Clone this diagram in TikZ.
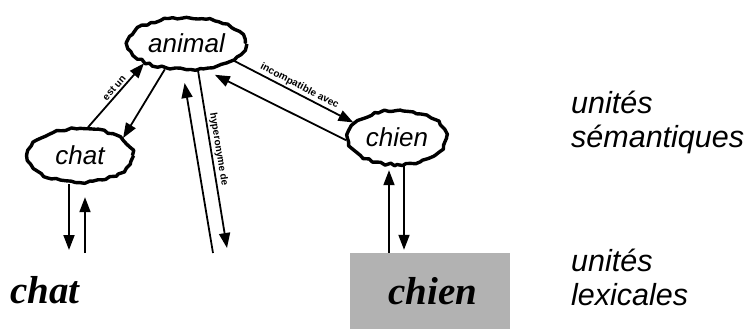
\documentclass[tikz,border=0pt]{standalone}
\usepackage{fontspec}
\setmainfont{Liberation Serif}
\setsansfont{Liberation Sans}
\usetikzlibrary{shapes.geometric,decorations.pathmorphing,arrows.meta}
\begin{document}
\begin{tikzpicture}[x=1pt,y=-1pt,
  sem/.style={ellipse, draw, line width=3.4pt, line join=round, decorate,
    decoration={random steps, segment length=4.5pt, amplitude=1.3pt}, inner sep=0pt,
    font=\sffamily\itshape\fontsize{26}{26}\selectfont},
  arr/.style={line width=1.8pt, -{Triangle[length=15pt,width=11pt]}},
  lbl/.style={font=\sffamily\bfseries\fontsize{10}{10}\selectfont, inner sep=2pt},
  side/.style={font=\sffamily\itshape\fontsize{30.5}{34}\selectfont, anchor=base west, inner sep=0pt},
  lex/.style={font=\rmfamily\bfseries\itshape\fontsize{39}{39}\selectfont}]
\pgfmathsetseed{7}
\useasboundingbox (0,0) rectangle (752,329);
\node[sem, minimum width=118pt, minimum height=52pt] (animal) at (186.5,43.5) {animal};
\node[sem, minimum width=105pt, minimum height=54pt] (chat) at (80,155.5) {chat};
\node[sem, minimum width=99pt, minimum height=54pt] (chien) at (397,137.5) {chien};

\node[side] (u1) at (571,113) {unités};
\node[side] (s1) at (571,147) {sémantiques};
\node[side] (u2) at (571,271) {unités};
\node[side] (l2) at (571,305) {lexicales};

\node[lex, anchor=base west, inner sep=0pt] (chatw) at (10,303) {chat};
\node[lex, fill=black!30, minimum width=160pt, minimum height=76pt, inner sep=0pt] (chienbox) at (430,291) {\hspace{6pt}chien};

\coordinate (cdn) at (69,250);
\coordinate (cup) at (85,253);
\coordinate (vup) at (213,253);
\coordinate (vdn) at (227,248);
\coordinate (qup) at (389,0);
\coordinate (qdn) at (404,0);

\draw[arr] (chat.south -| cdn) -- (cdn);
\draw[arr, shorten >=13pt] (cup) -- (chat.south -| cup);
\draw[arr] (chat.74) -- node[lbl, sloped, above, pos=0.55]{est un} (animal.205);
\draw[arr] (animal.230) -- (chat.22);
\draw[arr, shorten >=12pt] (vup) -- (animal.262);
\draw[arr] (animal.293) -- node[lbl, sloped, above, pos=0.45]{hyperonyme de} (vdn);
\draw[arr] (animal.340) -- node[lbl, sloped, above, pos=0.52]{incompatible avec} (chien.161);
\draw[arr, shorten >=11pt] (chien.183) -- (animal.305);
\draw[arr, shorten >=4pt] (chienbox.north -| qup) -- (chien.south -| qup);
\draw[arr, shorten >=3pt] (chien.south -| qdn) -- (chienbox.north -| qdn);
\end{tikzpicture}
\end{document}
